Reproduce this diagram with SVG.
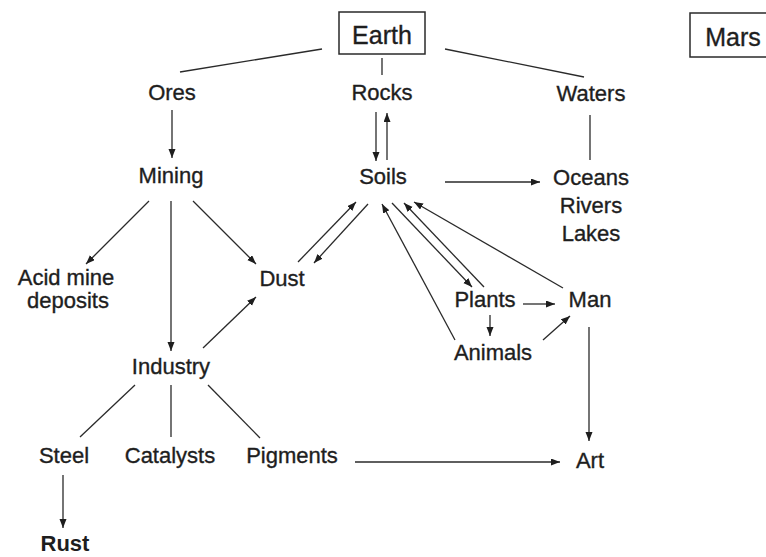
<svg xmlns="http://www.w3.org/2000/svg" width="766" height="557" viewBox="0 0 766 557">
<style>
  text { font-family: "Liberation Sans", Arial, sans-serif; font-size: 22px; fill: #1e1e1e; stroke: #1e1e1e; stroke-width: 0.35; text-anchor: middle; }
  text.big { font-size: 25px; }
  text.bold { font-weight: bold; stroke-width: 0; }
  .box { fill: none; stroke: #2a2a2a; stroke-width: 1.5; }
  #connectors line { stroke: #2a2a2a; stroke-width: 1.3; fill: none; }
  #connectors line.arr { marker-end: url(#ah); }
</style>
<defs>
  <marker id="ah" markerUnits="userSpaceOnUse" markerWidth="10" markerHeight="8" refX="9" refY="3.5" orient="auto">
    <path d="M0,0 L9,3.5 L0,7 z" fill="#1e1e1e"/>
  </marker>
</defs>
<rect width="766" height="557" fill="#ffffff"/>

<g id="connectors">
  <line x1="180" y1="72" x2="322" y2="49"/>
  <line x1="382" y1="58" x2="382" y2="75"/>
  <line x1="445" y1="49" x2="584" y2="77"/>
  <line class="arr" x1="172" y1="110" x2="172" y2="158"/>
  <line class="arr" x1="376" y1="112" x2="376" y2="161"/>
  <line class="arr" x1="387" y1="160" x2="387" y2="113"/>
  <line x1="590" y1="115" x2="590" y2="160"/>
  <line class="arr" x1="445" y1="182" x2="540" y2="182"/>
  <line class="arr" x1="149" y1="201" x2="86" y2="264"/>
  <line class="arr" x1="171" y1="201" x2="171" y2="351"/>
  <line class="arr" x1="193" y1="201" x2="256" y2="264"/>
  <line class="arr" x1="298" y1="262" x2="356" y2="202"/>
  <line class="arr" x1="368" y1="204" x2="314" y2="263"/>
  <line class="arr" x1="203" y1="348" x2="256" y2="297"/>
  <line class="arr" x1="455" y1="340" x2="382" y2="204"/>
  <line class="arr" x1="392" y1="203" x2="472" y2="287"/>
  <line class="arr" x1="484" y1="287" x2="404" y2="203"/>
  <line class="arr" x1="563" y1="288" x2="414" y2="202"/>
  <line class="arr" x1="523" y1="304" x2="555" y2="304"/>
  <line class="arr" x1="490" y1="315" x2="490" y2="336"/>
  <line class="arr" x1="543" y1="340" x2="570" y2="316"/>
  <line class="arr" x1="589" y1="327" x2="589" y2="441"/>
  <line x1="135" y1="385" x2="80" y2="437"/>
  <line x1="171" y1="385" x2="171" y2="437"/>
  <line x1="208" y1="385" x2="260" y2="438"/>
  <line class="arr" x1="63" y1="475" x2="63" y2="528"/>
  <line class="arr" x1="355" y1="462" x2="560" y2="462"/>
</g>

<g id="earth"><rect class="box" x="339" y="12" width="86" height="42"/><text class="big" x="382" y="44">Earth</text></g>
<g id="mars"><rect class="box" x="690" y="13" width="90" height="44"/><text class="big" x="733" y="46">Mars</text></g>
<g id="ores"><text x="172" y="100">Ores</text></g>
<g id="rocks"><text x="382" y="100">Rocks</text></g>
<g id="waters"><text x="591" y="101">Waters</text></g>
<g id="mining"><text x="171" y="183">Mining</text></g>
<g id="soils"><text x="383" y="184">Soils</text></g>
<g id="oceans"><text x="591" y="185">Oceans</text><text x="591" y="213">Rivers</text><text x="591" y="241">Lakes</text></g>
<g id="acid"><text x="66" y="285">Acid mine</text><text x="68" y="308">deposits</text></g>
<g id="dust"><text x="282" y="286">Dust</text></g>
<g id="plants"><text x="485" y="307">Plants</text></g>
<g id="man"><text x="590" y="307">Man</text></g>
<g id="animals"><text x="493" y="360">Animals</text></g>
<g id="industry"><text x="171" y="374">Industry</text></g>
<g id="steel"><text x="64" y="463">Steel</text></g>
<g id="catalysts"><text x="170" y="463">Catalysts</text></g>
<g id="pigments"><text x="292" y="463">Pigments</text></g>
<g id="art"><text x="590" y="468">Art</text></g>
<g id="rust"><text class="bold" x="65" y="551">Rust</text></g>
</svg>
